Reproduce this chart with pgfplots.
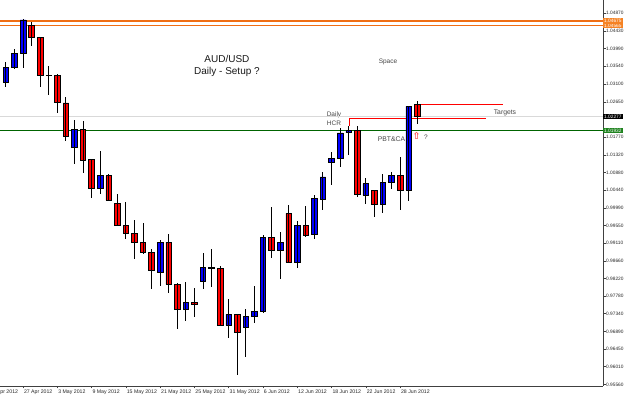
\documentclass[border=0pt]{standalone}
\usepackage{fontspec}
\setmainfont{Liberation Sans}
\newfontfamily\symfont{DejaVu Sans}
\usepackage{pgfplots}
\usepackage{pgfplotstable}
\pgfplotsset{compat=1.18}
\definecolor{mtorange}{RGB}{240,110,20}
\definecolor{lblorange}{RGB}{245,130,35}
\definecolor{mtgreen}{RGB}{0,100,0}
\definecolor{lblgreen}{RGB}{30,130,30}
\definecolor{txtgray}{RGB}{70,70,70}
\definecolor{mtred}{RGB}{255,0,0}
\definecolor{mtblue}{RGB}{0,0,255}

\pgfplotstableread{
i O H L C
-3 1.03172 1.03223 1.03122 1.03172
-2 1.03140 1.03641 1.03029 1.03516
-1 1.03516 1.03982 1.03481 1.03874
0 1.03867 1.04719 1.03506 1.04702
1 1.04559 1.04651 1.04050 1.04268
2 1.04268 1.04283 1.03029 1.03315
3 1.03315 1.03548 1.02814 1.03310
4 1.03315 1.03340 1.02378 1.02628
5 1.02621 1.02764 1.01676 1.01776
6 1.01510 1.02187 1.01092 1.01961
7 1.01961 1.02170 1.00858 1.01174
8 1.01209 1.01215 1.00232 1.00482
9 1.00485 1.01417 1.00332 1.00803
10 1.00798 1.00841 1.00169 1.00182
11 1.00114 1.00332 0.99550 0.99562
12 0.99562 1.00146 0.99204 0.99354
13 0.99354 0.99688 0.98702 0.99129
14 0.99129 0.99620 0.98835 0.98878
15 0.98868 0.98961 0.97950 0.98434
16 0.98366 0.99186 0.98033 0.99136
17 0.99136 0.99337 0.97850 0.98076
18 0.98083 0.98101 0.96947 0.97449
19 0.97456 0.98126 0.97148 0.97624
20 0.97624 0.97983 0.97263 0.97574
21 0.98158 0.98873 0.97970 0.98504
22 0.98502 0.98968 0.98008 0.98472
23 0.98467 0.98534 0.97035 0.97048
24 0.97048 0.97700 0.96722 0.97324
25 0.97324 0.97330 0.95809 0.96880
26 0.96988 0.97449 0.96261 0.97281
27 0.97273 0.98033 0.97098 0.97399
28 0.97399 0.99312 0.97364 0.99261
29 0.99244 1.00021 0.98727 0.98936
30 0.98928 0.99387 0.98201 0.99136
31 0.99856 1.00071 0.98615 0.98627
32 0.98627 0.99663 0.98492 0.99562
33 0.99562 1.00031 0.99269 0.99304
34 0.99319 1.00327 0.99204 1.00222
35 1.00214 1.00891 0.99938 1.00766
36 1.01134 1.01385 1.00565 1.01234
37 1.01234 1.01987 1.01024 1.01869
38 1.01876 1.02052 1.01317 1.01926
39 1.01936 1.02052 1.00257 1.00332
40 1.00314 1.00748 1.00081 1.00598
41 1.00432 1.00440 0.99755 1.00081
42 1.00081 1.00833 0.99856 1.00633
43 1.00633 1.00898 1.00465 1.00798
44 1.00798 1.01260 0.99938 1.00440
45 1.00440 1.02553 1.00164 1.02538
46 1.02578 1.02683 1.02107 1.02277
}\candles

\begin{document}
\begin{tikzpicture}
\begin{axis}[
  width=603pt, height=386pt, scale only axis,
  xmin=-2.684, xmax=67.68, ymin=0.95527, ymax=1.05203,
  ybar stacked, bar width=5.6pt,
  axis x line*=bottom, axis y line*=right,
  axis line style={-, draw=black!75, line width=0.8pt},
  clip mode=individual,
  tick align=outside,
  major tick length=2.5pt,
  tick style={black!75, line width=0.5pt},
  /pgf/number format/assume math mode=true,
  xtick={0,4,8,12,16,20,24,28,32,36,40,44},
  xticklabels={27 Apr 2012,3 May 2012,9 May 2012,15 May 2012,21 May 2012,25 May 2012,31 May 2012,6 Jun 2012,12 Jun 2012,18 Jun 2012,22 Jun 2012,28 Jun 2012},
  xticklabel style={font=\fontsize{5.2}{6}\selectfont, text=black!85, anchor=north west, inner sep=0pt, xshift=0.8pt, yshift=-0.8pt},
  ytick={0.95560,0.96010,0.96450,0.96890,0.97340,0.97780,0.98220,0.98660,0.99110,0.99550,0.99990,1.00440,1.00880,1.01320,1.01770,1.02650,1.03100,1.03540,1.03990,1.04430,1.04870},
  yticklabels={0.95560,0.96010,0.96450,0.96890,0.97340,0.97780,0.98220,0.98660,0.99110,0.99550,0.99990,1.00440,1.00880,1.01320,1.01770,1.02650,1.03100,1.03540,1.03990,1.04430,1.04870},
  yticklabel style={font=\fontsize{4.8}{6}\selectfont, text=black!85, anchor=west, inner sep=0pt, xshift=0.5pt},
]
\coordinate (sw) at (rel axis cs:0,0);

% wicks
\addplot[stack plots=false, sharp plot, draw=none, mark=none,
  error bars/.cd, y dir=both, y explicit, error mark=none,
  error bar style={draw=black, line width=0.9pt}]
  table[x=i, y expr={(\thisrow{H}+\thisrow{L})/2}, y error expr={(\thisrow{H}-\thisrow{L})/2}] {\candles};

% bodies (stacked: invisible base, bearish part, bullish part)
\addplot[draw=none, fill=none] table[x=i, y expr={min(\thisrow{O},\thisrow{C})}] {\candles};
\addplot[draw=black, line width=0.6pt, fill=mtred] table[x=i, y expr={max(0,\thisrow{O}-\thisrow{C})}] {\candles};
\addplot[draw=black, line width=0.6pt, fill=mtblue] table[x=i, y expr={max(0,\thisrow{C}-\thisrow{O})}] {\candles};

% horizontal levels
\addplot[stack plots=false, sharp plot, mark=none, draw=black!15, line width=1.2pt] coordinates {(-2.684,1.02277) (67.68,1.02277)};
\addplot[stack plots=false, sharp plot, mark=none, draw=mtorange, line width=1.4pt] coordinates {(-2.684,1.04675) (67.68,1.04675)};
\addplot[stack plots=false, sharp plot, mark=none, draw=mtorange, line width=1.4pt] coordinates {(-2.684,1.04565) (67.68,1.04565)};
\addplot[stack plots=false, sharp plot, mark=none, draw=mtgreen, line width=0.9pt] coordinates {(-2.684,1.01932) (67.68,1.01932)};
% target lines
\addplot[stack plots=false, sharp plot, mark=none, draw=mtred, line width=1.3pt] coordinates {(45.94,1.02585) (56.05,1.02585)};
\addplot[stack plots=false, sharp plot, mark=none, draw=mtred, line width=1.3pt] coordinates {(38.07,1.02044) (38.07,1.02237) (54.03,1.02237)};

% annotations
\node[font=\fontsize{10}{12}\selectfont, text=black!90] at (axis cs:23.80,1.03724) {AUD/USD};
\node[font=\fontsize{10}{12}\selectfont, text=black!90] at (axis cs:23.80,1.03398) {Daily - Setup ?};
\node[font=\fontsize{6.5}{8}\selectfont, text=txtgray] at (axis cs:42.59,1.03656) {Space};
\node[font=\fontsize{6.5}{8}\selectfont, text=txtgray] at (axis cs:36.29,1.02333) {Daily};
\node[font=\fontsize{6.5}{8}\selectfont, text=txtgray] at (axis cs:36.29,1.02119) {HCR};
\node[font=\fontsize{6.8}{8}\selectfont, text=txtgray] at (axis cs:43.0,1.01726) {PBT\&CA};
\node[font=\fontsize{6.8}{8}\selectfont, text=txtgray] at (axis cs:56.24,1.02363) {Targets};
\node[font=\symfont\fontsize{9.5}{10}\selectfont, text=mtred, inner sep=0pt] at (axis cs:45.94,1.01793) {⇧};
\node[font=\fontsize{6.5}{8}\selectfont, text=txtgray] at (axis cs:47.02,1.01768) {?};

% partial first date label
\node[font=\fontsize{5.2}{6}\selectfont, text=black!85, anchor=north west, inner sep=0pt] at ([xshift=0.8pt,yshift=-3.8pt]axis cs:-4,0.95527) {23 Apr 2012};

% price boxes on right scale
\node[anchor=west, fill=lblorange, text=white, font=\fontsize{4.8}{5}\selectfont, inner xsep=1pt, inner ysep=0.9pt] at (axis cs:67.68,1.04675) {1.04675};
\node[anchor=west, fill=lblorange, text=white, font=\fontsize{4.8}{5}\selectfont, inner xsep=1pt, inner ysep=0.9pt] at (axis cs:67.68,1.04565) {1.04565};
\node[anchor=west, fill=black, text=white, font=\fontsize{4.8}{5}\selectfont, inner xsep=1pt, inner ysep=0.9pt] at (axis cs:67.68,1.02277) {1.02277};
\node[anchor=west, fill=lblgreen, text=white, font=\fontsize{4.8}{5}\selectfont, inner xsep=1pt, inner ysep=0.9pt] at (axis cs:67.68,1.01932) {1.01932};
\end{axis}
\pgfresetboundingbox
\path[use as bounding box] ([yshift=-9pt]sw) rectangle ([xshift=625pt,yshift=386pt]sw);
\end{tikzpicture}
\end{document}
